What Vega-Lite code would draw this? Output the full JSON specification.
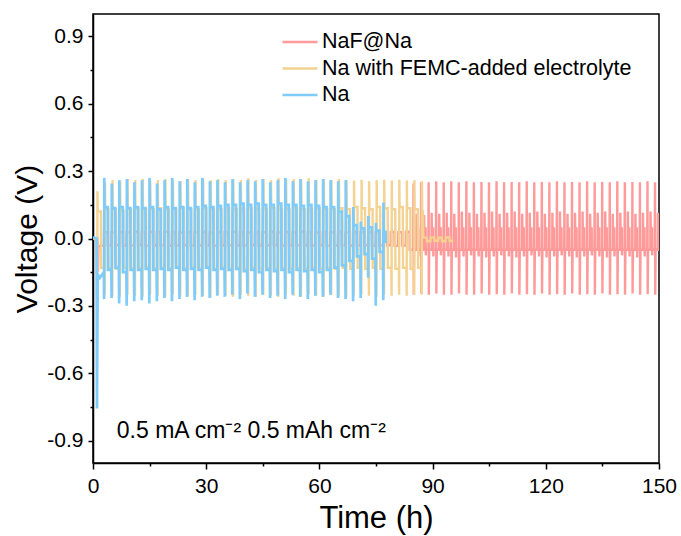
{
  "$schema": "https://vega.github.io/schema/vega-lite/v6.json",
  "width": 566,
  "height": 449,
  "autosize": "none",
  "padding": {"left": 93, "top": 14, "right": 22, "bottom": 73},
  "background": "white",
  "config": {
    "view": {"stroke": "black", "strokeWidth": 1.5},
    "font": "Liberation Sans",
    "axis": {"domainColor": "black", "tickColor": "black", "labelColor": "black", "titleColor": "black", "grid": false, "labelFont": "Liberation Sans", "titleFont": "Liberation Sans", "titleFontWeight": "normal", "domainWidth": 1.5, "tickWidth": 1.5}
  },
  "datasets": {
    "naf": [
      {"t":0,"v":0},{"t":1.2,"v":0},{"t":1.3,"v":-0.15},{"t":1.45,"v":-0.035},{"t":2.88,"v":-0.031},
      {"t":2.92,"v":0.028},{"t":3.9,"v":0.028},{"t":3.92,"v":-0.031},{"t":4.88,"v":-0.031},
      {"t":4.92,"v":0.027},{"t":5.9,"v":0.027},{"t":5.92,"v":-0.03},{"t":6.88,"v":-0.03},
      {"t":6.92,"v":0.029},{"t":7.9,"v":0.029},{"t":7.92,"v":-0.032},{"t":8.88,"v":-0.032},
      {"t":8.92,"v":0.028},{"t":9.9,"v":0.028},{"t":9.92,"v":-0.031},{"t":10.88,"v":-0.031},
      {"t":10.92,"v":0.03},{"t":11.9,"v":0.03},{"t":11.92,"v":-0.03},{"t":12.88,"v":-0.03},
      {"t":12.92,"v":0.027},{"t":13.9,"v":0.027},{"t":13.92,"v":-0.032},{"t":14.88,"v":-0.032},
      {"t":14.92,"v":0.029},{"t":15.9,"v":0.029},{"t":15.92,"v":-0.031},{"t":16.88,"v":-0.031},
      {"t":16.92,"v":0.028},{"t":17.9,"v":0.028},{"t":17.92,"v":-0.03},{"t":18.88,"v":-0.03},
      {"t":18.92,"v":0.03},{"t":19.9,"v":0.03},{"t":19.92,"v":-0.032},{"t":20.88,"v":-0.032},
      {"t":20.92,"v":0.028},{"t":21.9,"v":0.028},{"t":21.92,"v":-0.031},{"t":22.88,"v":-0.031},
      {"t":22.92,"v":0.027},{"t":23.9,"v":0.027},{"t":23.92,"v":-0.03},{"t":24.88,"v":-0.03},
      {"t":24.92,"v":0.029},{"t":25.9,"v":0.029},{"t":25.92,"v":-0.032},{"t":26.88,"v":-0.032},
      {"t":26.92,"v":0.028},{"t":27.9,"v":0.028},{"t":27.92,"v":-0.031},{"t":28.88,"v":-0.031},
      {"t":28.92,"v":0.03},{"t":29.9,"v":0.03},{"t":29.92,"v":-0.03},{"t":30.88,"v":-0.03},
      {"t":30.92,"v":0.027},{"t":31.9,"v":0.027},{"t":31.92,"v":-0.032},{"t":32.88,"v":-0.032},
      {"t":32.92,"v":0.029},{"t":33.9,"v":0.029},{"t":33.92,"v":-0.031},{"t":34.88,"v":-0.031},
      {"t":34.92,"v":0.028},{"t":35.9,"v":0.028},{"t":35.92,"v":-0.03},{"t":36.88,"v":-0.03},
      {"t":36.92,"v":0.03},{"t":37.9,"v":0.03},{"t":37.92,"v":-0.032},{"t":38.88,"v":-0.032},
      {"t":38.92,"v":0.028},{"t":39.9,"v":0.028},{"t":39.92,"v":-0.031},{"t":40.88,"v":-0.031},
      {"t":40.92,"v":0.027},{"t":41.9,"v":0.027},{"t":41.92,"v":-0.03},{"t":42.88,"v":-0.03},
      {"t":42.92,"v":0.029},{"t":43.9,"v":0.029},{"t":43.92,"v":-0.032},{"t":44.88,"v":-0.032},
      {"t":44.92,"v":0.028},{"t":45.9,"v":0.028},{"t":45.92,"v":-0.031},{"t":46.88,"v":-0.031},
      {"t":46.92,"v":0.03},{"t":47.9,"v":0.03},{"t":47.92,"v":-0.03},{"t":48.88,"v":-0.03},
      {"t":48.92,"v":0.027},{"t":49.9,"v":0.027},{"t":49.92,"v":-0.032},{"t":50.88,"v":-0.032},
      {"t":50.92,"v":0.029},{"t":51.9,"v":0.029},{"t":51.92,"v":-0.031},{"t":52.88,"v":-0.031},
      {"t":52.92,"v":0.028},{"t":53.9,"v":0.028},{"t":53.92,"v":-0.03},{"t":54.88,"v":-0.03},
      {"t":54.92,"v":0.03},{"t":55.9,"v":0.03},{"t":55.92,"v":-0.032},{"t":56.88,"v":-0.032},
      {"t":56.92,"v":0.028},{"t":57.9,"v":0.028},{"t":57.92,"v":-0.031},{"t":58.88,"v":-0.031},
      {"t":58.92,"v":0.027},{"t":59.9,"v":0.027},{"t":59.92,"v":-0.03},{"t":60.88,"v":-0.03},
      {"t":60.92,"v":0.029},{"t":61.9,"v":0.029},{"t":61.92,"v":-0.032},{"t":62.88,"v":-0.032},
      {"t":62.92,"v":0.028},{"t":63.9,"v":0.028},{"t":63.92,"v":-0.031},{"t":64.88,"v":-0.031},
      {"t":64.92,"v":0.03},{"t":65.9,"v":0.03},{"t":65.92,"v":-0.03},{"t":66.88,"v":-0.03},
      {"t":66.92,"v":0.027},{"t":67.9,"v":0.027},{"t":67.92,"v":-0.032},{"t":68.88,"v":-0.032},
      {"t":68.92,"v":0.029},{"t":69.9,"v":0.029},{"t":69.92,"v":-0.031},{"t":70.88,"v":-0.031},
      {"t":70.92,"v":0.028},{"t":71.9,"v":0.028},{"t":71.92,"v":-0.03},{"t":72.88,"v":-0.03},
      {"t":72.92,"v":0.03},{"t":73.9,"v":0.03},{"t":73.92,"v":-0.032},{"t":74.88,"v":-0.032},
      {"t":74.92,"v":0.028},{"t":75.9,"v":0.028},{"t":75.92,"v":-0.031},{"t":76.88,"v":-0.031},
      {"t":76.92,"v":0.027},{"t":77.9,"v":0.027},{"t":77.92,"v":-0.03},{"t":78.88,"v":-0.03},
      {"t":78.92,"v":0.029},{"t":79.9,"v":0.029},{"t":79.92,"v":-0.032},{"t":80.88,"v":-0.032},
      {"t":80.92,"v":0.028},{"t":81.9,"v":0.028},{"t":81.92,"v":-0.031},{"t":82.88,"v":-0.031},
      {"t":82.92,"v":0.03},{"t":83.9,"v":0.03},{"t":83.92,"v":-0.05},{"t":84.88,"v":-0.05},
      {"t":84.95,"v":0.245},{"t":85,"v":-0.25},{"t":85.1,"v":-0.05},{"t":85.7,"v":-0.05},{"t":85.75,"v":0.11},{"t":85.8,"v":0.045},{"t":86.15,"v":0.045},{"t":86.2,"v":-0.08},{"t":86.25,"v":-0.05},{"t":86.88,"v":-0.05},
      {"t":86.95,"v":0.25},{"t":87,"v":-0.245},{"t":87.1,"v":-0.05},{"t":87.7,"v":-0.05},{"t":87.75,"v":0.105},{"t":87.8,"v":0.045},{"t":88.15,"v":0.045},{"t":88.2,"v":-0.075},{"t":88.25,"v":-0.05},{"t":88.88,"v":-0.05},
      {"t":88.95,"v":0.25},{"t":89,"v":-0.25},{"t":89.1,"v":-0.05},{"t":89.7,"v":-0.05},{"t":89.75,"v":0.115},{"t":89.8,"v":0.045},{"t":90.15,"v":0.045},{"t":90.2,"v":-0.08},{"t":90.25,"v":-0.05},{"t":90.88,"v":-0.05},
      {"t":90.95,"v":0.255},{"t":91,"v":-0.245},{"t":91.1,"v":-0.05},{"t":91.7,"v":-0.05},{"t":91.75,"v":0.11},{"t":91.8,"v":0.045},{"t":92.15,"v":0.045},{"t":92.2,"v":-0.075},{"t":92.25,"v":-0.05},{"t":92.88,"v":-0.05},
      {"t":92.95,"v":0.25},{"t":93,"v":-0.25},{"t":93.1,"v":-0.05},{"t":93.7,"v":-0.05},{"t":93.75,"v":0.115},{"t":93.8,"v":0.045},{"t":94.15,"v":0.045},{"t":94.2,"v":-0.08},{"t":94.25,"v":-0.05},{"t":94.88,"v":-0.05},
      {"t":94.95,"v":0.255},{"t":95,"v":-0.25},{"t":95.1,"v":-0.05},{"t":95.7,"v":-0.05},{"t":95.75,"v":0.11},{"t":95.8,"v":0.045},{"t":96.15,"v":0.045},{"t":96.2,"v":-0.085},{"t":96.25,"v":-0.05},{"t":96.88,"v":-0.05},
      {"t":96.95,"v":0.25},{"t":97,"v":-0.245},{"t":97.1,"v":-0.05},{"t":97.7,"v":-0.05},{"t":97.75,"v":0.12},{"t":97.8,"v":0.045},{"t":98.15,"v":0.045},{"t":98.2,"v":-0.08},{"t":98.25,"v":-0.05},{"t":98.88,"v":-0.05},
      {"t":98.95,"v":0.255},{"t":99,"v":-0.25},{"t":99.1,"v":-0.05},{"t":99.7,"v":-0.05},{"t":99.75,"v":0.115},{"t":99.8,"v":0.045},{"t":100.15,"v":0.045},{"t":100.2,"v":-0.075},{"t":100.25,"v":-0.05},{"t":100.88,"v":-0.05},
      {"t":100.95,"v":0.25},{"t":101,"v":-0.25},{"t":101.1,"v":-0.05},{"t":101.7,"v":-0.05},{"t":101.75,"v":0.11},{"t":101.8,"v":0.045},{"t":102.15,"v":0.045},{"t":102.2,"v":-0.08},{"t":102.25,"v":-0.05},{"t":102.88,"v":-0.05},
      {"t":102.95,"v":0.252},{"t":103,"v":-0.245},{"t":103.1,"v":-0.05},{"t":103.7,"v":-0.05},{"t":103.75,"v":0.115},{"t":103.8,"v":0.045},{"t":104.15,"v":0.045},{"t":104.2,"v":-0.085},{"t":104.25,"v":-0.05},{"t":104.88,"v":-0.05},
      {"t":104.95,"v":0.25},{"t":105,"v":-0.25},{"t":105.1,"v":-0.05},{"t":105.7,"v":-0.05},{"t":105.75,"v":0.12},{"t":105.8,"v":0.045},{"t":106.15,"v":0.045},{"t":106.2,"v":-0.08},{"t":106.25,"v":-0.05},{"t":106.88,"v":-0.05},
      {"t":106.95,"v":0.255},{"t":107,"v":-0.248},{"t":107.1,"v":-0.05},{"t":107.7,"v":-0.05},{"t":107.75,"v":0.11},{"t":107.8,"v":0.045},{"t":108.15,"v":0.045},{"t":108.2,"v":-0.075},{"t":108.25,"v":-0.05},{"t":108.88,"v":-0.05},
      {"t":108.95,"v":0.25},{"t":109,"v":-0.25},{"t":109.1,"v":-0.05},{"t":109.7,"v":-0.05},{"t":109.75,"v":0.115},{"t":109.8,"v":0.045},{"t":110.15,"v":0.045},{"t":110.2,"v":-0.08},{"t":110.25,"v":-0.05},{"t":110.88,"v":-0.05},
      {"t":110.95,"v":0.252},{"t":111,"v":-0.245},{"t":111.1,"v":-0.05},{"t":111.7,"v":-0.05},{"t":111.75,"v":0.12},{"t":111.8,"v":0.045},{"t":112.15,"v":0.045},{"t":112.2,"v":-0.085},{"t":112.25,"v":-0.05},{"t":112.88,"v":-0.05},
      {"t":112.95,"v":0.25},{"t":113,"v":-0.25},{"t":113.1,"v":-0.05},{"t":113.7,"v":-0.05},{"t":113.75,"v":0.11},{"t":113.8,"v":0.045},{"t":114.15,"v":0.045},{"t":114.2,"v":-0.08},{"t":114.25,"v":-0.05},{"t":114.88,"v":-0.05},
      {"t":114.95,"v":0.255},{"t":115,"v":-0.248},{"t":115.1,"v":-0.05},{"t":115.7,"v":-0.05},{"t":115.75,"v":0.115},{"t":115.8,"v":0.045},{"t":116.15,"v":0.045},{"t":116.2,"v":-0.075},{"t":116.25,"v":-0.05},{"t":116.88,"v":-0.05},
      {"t":116.95,"v":0.25},{"t":117,"v":-0.25},{"t":117.1,"v":-0.05},{"t":117.7,"v":-0.05},{"t":117.75,"v":0.12},{"t":117.8,"v":0.045},{"t":118.15,"v":0.045},{"t":118.2,"v":-0.08},{"t":118.25,"v":-0.05},{"t":118.88,"v":-0.05},
      {"t":118.95,"v":0.252},{"t":119,"v":-0.245},{"t":119.1,"v":-0.05},{"t":119.7,"v":-0.05},{"t":119.75,"v":0.11},{"t":119.8,"v":0.045},{"t":120.15,"v":0.045},{"t":120.2,"v":-0.085},{"t":120.25,"v":-0.05},{"t":120.88,"v":-0.05},
      {"t":120.95,"v":0.25},{"t":121,"v":-0.25},{"t":121.1,"v":-0.05},{"t":121.7,"v":-0.05},{"t":121.75,"v":0.115},{"t":121.8,"v":0.045},{"t":122.15,"v":0.045},{"t":122.2,"v":-0.08},{"t":122.25,"v":-0.05},{"t":122.88,"v":-0.05},
      {"t":122.95,"v":0.255},{"t":123,"v":-0.248},{"t":123.1,"v":-0.05},{"t":123.7,"v":-0.05},{"t":123.75,"v":0.12},{"t":123.8,"v":0.045},{"t":124.15,"v":0.045},{"t":124.2,"v":-0.075},{"t":124.25,"v":-0.05},{"t":124.88,"v":-0.05},
      {"t":124.95,"v":0.25},{"t":125,"v":-0.25},{"t":125.1,"v":-0.05},{"t":125.7,"v":-0.05},{"t":125.75,"v":0.11},{"t":125.8,"v":0.045},{"t":126.15,"v":0.045},{"t":126.2,"v":-0.08},{"t":126.25,"v":-0.05},{"t":126.88,"v":-0.05},
      {"t":126.95,"v":0.252},{"t":127,"v":-0.245},{"t":127.1,"v":-0.05},{"t":127.7,"v":-0.05},{"t":127.75,"v":0.115},{"t":127.8,"v":0.045},{"t":128.15,"v":0.045},{"t":128.2,"v":-0.085},{"t":128.25,"v":-0.05},{"t":128.88,"v":-0.05},
      {"t":128.95,"v":0.25},{"t":129,"v":-0.25},{"t":129.1,"v":-0.05},{"t":129.7,"v":-0.05},{"t":129.75,"v":0.12},{"t":129.8,"v":0.045},{"t":130.15,"v":0.045},{"t":130.2,"v":-0.08},{"t":130.25,"v":-0.05},{"t":130.88,"v":-0.05},
      {"t":130.95,"v":0.255},{"t":131,"v":-0.248},{"t":131.1,"v":-0.05},{"t":131.7,"v":-0.05},{"t":131.75,"v":0.11},{"t":131.8,"v":0.045},{"t":132.15,"v":0.045},{"t":132.2,"v":-0.075},{"t":132.25,"v":-0.05},{"t":132.88,"v":-0.05},
      {"t":132.95,"v":0.25},{"t":133,"v":-0.25},{"t":133.1,"v":-0.05},{"t":133.7,"v":-0.05},{"t":133.75,"v":0.115},{"t":133.8,"v":0.045},{"t":134.15,"v":0.045},{"t":134.2,"v":-0.08},{"t":134.25,"v":-0.05},{"t":134.88,"v":-0.05},
      {"t":134.95,"v":0.252},{"t":135,"v":-0.245},{"t":135.1,"v":-0.05},{"t":135.7,"v":-0.05},{"t":135.75,"v":0.12},{"t":135.8,"v":0.045},{"t":136.15,"v":0.045},{"t":136.2,"v":-0.085},{"t":136.25,"v":-0.05},{"t":136.88,"v":-0.05},
      {"t":136.95,"v":0.25},{"t":137,"v":-0.25},{"t":137.1,"v":-0.05},{"t":137.7,"v":-0.05},{"t":137.75,"v":0.11},{"t":137.8,"v":0.045},{"t":138.15,"v":0.045},{"t":138.2,"v":-0.08},{"t":138.25,"v":-0.05},{"t":138.88,"v":-0.05},
      {"t":138.95,"v":0.255},{"t":139,"v":-0.248},{"t":139.1,"v":-0.05},{"t":139.7,"v":-0.05},{"t":139.75,"v":0.115},{"t":139.8,"v":0.045},{"t":140.15,"v":0.045},{"t":140.2,"v":-0.075},{"t":140.25,"v":-0.05},{"t":140.88,"v":-0.05},
      {"t":140.95,"v":0.25},{"t":141,"v":-0.25},{"t":141.1,"v":-0.05},{"t":141.7,"v":-0.05},{"t":141.75,"v":0.12},{"t":141.8,"v":0.045},{"t":142.15,"v":0.045},{"t":142.2,"v":-0.08},{"t":142.25,"v":-0.05},{"t":142.88,"v":-0.05},
      {"t":142.95,"v":0.252},{"t":143,"v":-0.245},{"t":143.1,"v":-0.05},{"t":143.7,"v":-0.05},{"t":143.75,"v":0.11},{"t":143.8,"v":0.045},{"t":144.15,"v":0.045},{"t":144.2,"v":-0.085},{"t":144.25,"v":-0.05},{"t":144.88,"v":-0.05},
      {"t":144.95,"v":0.25},{"t":145,"v":-0.25},{"t":145.1,"v":-0.05},{"t":145.7,"v":-0.05},{"t":145.75,"v":0.115},{"t":145.8,"v":0.045},{"t":146.15,"v":0.045},{"t":146.2,"v":-0.08},{"t":146.25,"v":-0.05},{"t":146.88,"v":-0.05},
      {"t":146.95,"v":0.255},{"t":147,"v":-0.248},{"t":147.1,"v":-0.05},{"t":147.7,"v":-0.05},{"t":147.75,"v":0.12},{"t":147.8,"v":0.045},{"t":148.15,"v":0.045},{"t":148.2,"v":-0.075},{"t":148.25,"v":-0.05},{"t":148.88,"v":-0.05},
      {"t":148.95,"v":0.25},{"t":149,"v":-0.25},{"t":149.1,"v":-0.05},{"t":149.7,"v":-0.05},{"t":149.75,"v":0.115},{"t":149.8,"v":0.045},{"t":150,"v":0.045}
    ],
    "femc": [
      {"t":0,"v":0},{"t":0.95,"v":0},{"t":1.0,"v":-0.16},{"t":1.08,"v":-0.13},
      {"t":1.13,"v":-0.22},{"t":1.18,"v":0.21},{"t":1.25,"v":0.12},{"t":2.1,"v":0.12},{"t":2.15,"v":-0.13},{"t":3.05,"v":-0.13},
      {"t":3.13,"v":-0.25},{"t":3.18,"v":0.25},{"t":3.25,"v":0.13},{"t":4.1,"v":0.13},{"t":4.15,"v":-0.13},{"t":5.05,"v":-0.13},
      {"t":5.13,"v":-0.255},{"t":5.18,"v":0.26},{"t":5.25,"v":0.13},{"t":6.1,"v":0.13},{"t":6.15,"v":-0.135},{"t":7.05,"v":-0.135},
      {"t":7.13,"v":-0.26},{"t":7.18,"v":0.255},{"t":7.25,"v":0.125},{"t":8.1,"v":0.125},{"t":8.15,"v":-0.13},{"t":9.05,"v":-0.13},
      {"t":9.13,"v":-0.25},{"t":9.18,"v":0.265},{"t":9.25,"v":0.13},{"t":10.1,"v":0.13},{"t":10.15,"v":-0.13},{"t":11.05,"v":-0.13},
      {"t":11.13,"v":-0.255},{"t":11.18,"v":0.26},{"t":11.25,"v":0.135},{"t":12.1,"v":0.135},{"t":12.15,"v":-0.135},{"t":13.05,"v":-0.135},
      {"t":13.13,"v":-0.26},{"t":13.18,"v":0.265},{"t":13.25,"v":0.13},{"t":14.1,"v":0.13},{"t":14.15,"v":-0.13},{"t":15.05,"v":-0.13},
      {"t":15.13,"v":-0.25},{"t":15.18,"v":0.255},{"t":15.25,"v":0.13},{"t":16.1,"v":0.13},{"t":16.15,"v":-0.135},{"t":17.05,"v":-0.135},
      {"t":17.13,"v":-0.255},{"t":17.18,"v":0.26},{"t":17.25,"v":0.135},{"t":18.1,"v":0.135},{"t":18.15,"v":-0.13},{"t":19.05,"v":-0.13},
      {"t":19.13,"v":-0.26},{"t":19.18,"v":0.265},{"t":19.25,"v":0.13},{"t":20.1,"v":0.13},{"t":20.15,"v":-0.135},{"t":21.05,"v":-0.135},
      {"t":21.13,"v":-0.25},{"t":21.18,"v":0.26},{"t":21.25,"v":0.13},{"t":22.1,"v":0.13},{"t":22.15,"v":-0.13},{"t":23.05,"v":-0.13},
      {"t":23.13,"v":-0.255},{"t":23.18,"v":0.255},{"t":23.25,"v":0.135},{"t":24.1,"v":0.135},{"t":24.15,"v":-0.135},{"t":25.05,"v":-0.135},
      {"t":25.13,"v":-0.26},{"t":25.18,"v":0.265},{"t":25.25,"v":0.13},{"t":26.1,"v":0.13},{"t":26.15,"v":-0.13},{"t":27.05,"v":-0.13},
      {"t":27.13,"v":-0.25},{"t":27.18,"v":0.26},{"t":27.25,"v":0.13},{"t":28.1,"v":0.13},{"t":28.15,"v":-0.135},{"t":29.05,"v":-0.135},
      {"t":29.13,"v":-0.255},{"t":29.18,"v":0.268},{"t":29.25,"v":0.135},{"t":30.1,"v":0.135},{"t":30.15,"v":-0.13},{"t":31.05,"v":-0.13},
      {"t":31.13,"v":-0.26},{"t":31.18,"v":0.26},{"t":31.25,"v":0.13},{"t":32.1,"v":0.13},{"t":32.15,"v":-0.135},{"t":33.05,"v":-0.135},
      {"t":33.13,"v":-0.25},{"t":33.18,"v":0.265},{"t":33.25,"v":0.13},{"t":34.1,"v":0.13},{"t":34.15,"v":-0.13},{"t":35.05,"v":-0.13},
      {"t":35.13,"v":-0.255},{"t":35.18,"v":0.26},{"t":35.25,"v":0.135},{"t":36.1,"v":0.135},{"t":36.15,"v":-0.135},{"t":37.05,"v":-0.135},
      {"t":37.13,"v":-0.26},{"t":37.18,"v":0.265},{"t":37.25,"v":0.13},{"t":38.1,"v":0.13},{"t":38.15,"v":-0.13},{"t":39.05,"v":-0.13},
      {"t":39.13,"v":-0.25},{"t":39.18,"v":0.26},{"t":39.25,"v":0.13},{"t":40.1,"v":0.13},{"t":40.15,"v":-0.135},{"t":41.05,"v":-0.135},
      {"t":41.13,"v":-0.255},{"t":41.18,"v":0.268},{"t":41.25,"v":0.135},{"t":42.1,"v":0.135},{"t":42.15,"v":-0.13},{"t":43.05,"v":-0.13},
      {"t":43.13,"v":-0.26},{"t":43.18,"v":0.26},{"t":43.25,"v":0.13},{"t":44.1,"v":0.13},{"t":44.15,"v":-0.135},{"t":45.05,"v":-0.135},
      {"t":45.13,"v":-0.25},{"t":45.18,"v":0.265},{"t":45.25,"v":0.13},{"t":46.1,"v":0.13},{"t":46.15,"v":-0.13},{"t":47.05,"v":-0.13},
      {"t":47.13,"v":-0.255},{"t":47.18,"v":0.26},{"t":47.25,"v":0.135},{"t":48.1,"v":0.135},{"t":48.15,"v":-0.135},{"t":49.05,"v":-0.135},
      {"t":49.13,"v":-0.26},{"t":49.18,"v":0.268},{"t":49.25,"v":0.13},{"t":50.1,"v":0.13},{"t":50.15,"v":-0.13},{"t":51.05,"v":-0.13},
      {"t":51.13,"v":-0.25},{"t":51.18,"v":0.26},{"t":51.25,"v":0.13},{"t":52.1,"v":0.13},{"t":52.15,"v":-0.135},{"t":53.05,"v":-0.135},
      {"t":53.13,"v":-0.255},{"t":53.18,"v":0.265},{"t":53.25,"v":0.135},{"t":54.1,"v":0.135},{"t":54.15,"v":-0.13},{"t":55.05,"v":-0.13},
      {"t":55.13,"v":-0.26},{"t":55.18,"v":0.26},{"t":55.25,"v":0.13},{"t":56.1,"v":0.13},{"t":56.15,"v":-0.135},{"t":57.05,"v":-0.135},
      {"t":57.13,"v":-0.25},{"t":57.18,"v":0.268},{"t":57.25,"v":0.13},{"t":58.1,"v":0.13},{"t":58.15,"v":-0.13},{"t":59.05,"v":-0.13},
      {"t":59.13,"v":-0.255},{"t":59.18,"v":0.26},{"t":59.25,"v":0.135},{"t":60.1,"v":0.135},{"t":60.15,"v":-0.135},{"t":61.05,"v":-0.135},
      {"t":61.13,"v":-0.26},{"t":61.18,"v":0.265},{"t":61.25,"v":0.13},{"t":62.1,"v":0.13},{"t":62.15,"v":-0.13},{"t":63.05,"v":-0.13},
      {"t":63.13,"v":-0.25},{"t":63.18,"v":0.26},{"t":63.25,"v":0.13},{"t":64.1,"v":0.13},{"t":64.15,"v":-0.135},{"t":65.05,"v":-0.135},
      {"t":65.13,"v":-0.255},{"t":65.18,"v":0.265},{"t":65.25,"v":0.135},{"t":66.1,"v":0.135},{"t":66.15,"v":-0.13},{"t":67.05,"v":-0.13},
      {"t":67.13,"v":-0.26},{"t":67.18,"v":0.26},{"t":67.25,"v":0.13},{"t":68.1,"v":0.13},{"t":68.15,"v":-0.135},{"t":69.05,"v":-0.135},
      {"t":69.13,"v":-0.255},{"t":69.18,"v":0.258},{"t":69.25,"v":0.14},{"t":70.1,"v":0.14},{"t":70.15,"v":-0.13},{"t":71.05,"v":-0.13},
      {"t":71.13,"v":-0.25},{"t":71.18,"v":0.262},{"t":71.25,"v":0.135},{"t":72.1,"v":0.135},{"t":72.15,"v":-0.135},{"t":73.05,"v":-0.135},
      {"t":73.13,"v":-0.255},{"t":73.18,"v":0.255},{"t":73.25,"v":0.13},{"t":74.1,"v":0.13},{"t":74.15,"v":-0.13},{"t":75.05,"v":-0.13},
      {"t":75.13,"v":-0.26},{"t":75.18,"v":0.26},{"t":75.25,"v":0.14},{"t":76.1,"v":0.14},{"t":76.15,"v":-0.135},{"t":77.05,"v":-0.135},
      {"t":77.13,"v":-0.25},{"t":77.18,"v":0.262},{"t":77.25,"v":0.135},{"t":78.1,"v":0.135},{"t":78.15,"v":-0.13},{"t":79.05,"v":-0.13},
      {"t":79.13,"v":-0.255},{"t":79.18,"v":0.258},{"t":79.25,"v":0.13},{"t":80.1,"v":0.13},{"t":80.15,"v":-0.135},{"t":81.05,"v":-0.135},
      {"t":81.13,"v":-0.25},{"t":81.18,"v":0.262},{"t":81.25,"v":0.14},{"t":82.1,"v":0.14},{"t":82.15,"v":-0.13},{"t":83.05,"v":-0.13},
      {"t":83.13,"v":-0.255},{"t":83.18,"v":0.258},{"t":83.25,"v":0.135},{"t":84.1,"v":0.135},{"t":84.15,"v":-0.135},{"t":85.05,"v":-0.135},
      {"t":85.13,"v":-0.25},{"t":85.18,"v":0.26},{"t":85.25,"v":0.13},{"t":86.1,"v":0.13},{"t":86.15,"v":-0.13},{"t":87.05,"v":-0.13},
      {"t":87.13,"v":-0.25},{"t":87.18,"v":0.255},{"t":87.25,"v":0.12},{"t":87.45,"v":0.12},{"t":87.5,"v":0.004},
      {"t":88.45,"v":0.004},{"t":88.5,"v":-0.012},{"t":89.45,"v":-0.012},{"t":89.5,"v":0.005},{"t":90.45,"v":0.005},{"t":90.5,"v":-0.01},{"t":91.45,"v":-0.01},
      {"t":91.5,"v":0.004},{"t":92.45,"v":0.004},{"t":92.5,"v":-0.012},{"t":93.45,"v":-0.012},{"t":93.5,"v":0.005},{"t":94.45,"v":0.005},{"t":94.5,"v":-0.011},{"t":95.5,"v":-0.011}
    ],
    "na": [
      {"t":0,"v":0.005},{"t":0.95,"v":0},{"t":1.05,"v":-0.757},{"t":1.25,"v":-0.16},{"t":1.8,"v":-0.175},{"t":2.87,"v":-0.15},
      {"t":2.93,"v":-0.27},{"t":2.98,"v":0.27},{"t":3.05,"v":0.14},{"t":3.9,"v":0.14},{"t":3.95,"v":-0.14},{"t":4.85,"v":-0.14},
      {"t":4.93,"v":-0.265},{"t":4.98,"v":0.245},{"t":5.05,"v":0.135},{"t":5.9,"v":0.135},{"t":5.95,"v":-0.13},{"t":6.85,"v":-0.13},
      {"t":6.93,"v":-0.29},{"t":6.98,"v":0.26},{"t":7.05,"v":0.14},{"t":7.9,"v":0.14},{"t":7.95,"v":-0.15},{"t":8.85,"v":-0.15},
      {"t":8.93,"v":-0.3},{"t":8.98,"v":0.265},{"t":9.05,"v":0.135},{"t":9.9,"v":0.135},{"t":9.95,"v":-0.14},{"t":10.85,"v":-0.14},
      {"t":10.93,"v":-0.28},{"t":10.98,"v":0.25},{"t":11.05,"v":0.14},{"t":11.9,"v":0.14},{"t":11.95,"v":-0.14},{"t":12.85,"v":-0.14},
      {"t":12.93,"v":-0.275},{"t":12.98,"v":0.26},{"t":13.05,"v":0.135},{"t":13.9,"v":0.135},{"t":13.95,"v":-0.135},{"t":14.85,"v":-0.135},
      {"t":14.93,"v":-0.29},{"t":14.98,"v":0.27},{"t":15.05,"v":0.14},{"t":15.9,"v":0.14},{"t":15.95,"v":-0.14},{"t":16.85,"v":-0.14},
      {"t":16.93,"v":-0.28},{"t":16.98,"v":0.245},{"t":17.05,"v":0.13},{"t":17.9,"v":0.13},{"t":17.95,"v":-0.135},{"t":18.85,"v":-0.135},
      {"t":18.93,"v":-0.265},{"t":18.98,"v":0.26},{"t":19.05,"v":0.14},{"t":19.9,"v":0.14},{"t":19.95,"v":-0.14},{"t":20.85,"v":-0.14},
      {"t":20.93,"v":-0.28},{"t":20.98,"v":0.27},{"t":21.05,"v":0.135},{"t":21.9,"v":0.135},{"t":21.95,"v":-0.13},{"t":22.85,"v":-0.13},
      {"t":22.93,"v":-0.27},{"t":22.98,"v":0.255},{"t":23.05,"v":0.14},{"t":23.9,"v":0.14},{"t":23.95,"v":-0.14},{"t":24.85,"v":-0.14},
      {"t":24.93,"v":-0.26},{"t":24.98,"v":0.265},{"t":25.05,"v":0.135},{"t":25.9,"v":0.135},{"t":25.95,"v":-0.135},{"t":26.85,"v":-0.135},
      {"t":26.93,"v":-0.275},{"t":26.98,"v":0.25},{"t":27.05,"v":0.14},{"t":27.9,"v":0.14},{"t":27.95,"v":-0.14},{"t":28.85,"v":-0.14},
      {"t":28.93,"v":-0.26},{"t":28.98,"v":0.27},{"t":29.05,"v":0.145},{"t":29.9,"v":0.145},{"t":29.95,"v":-0.13},{"t":30.85,"v":-0.13},
      {"t":30.93,"v":-0.265},{"t":30.98,"v":0.255},{"t":31.05,"v":0.14},{"t":31.9,"v":0.14},{"t":31.95,"v":-0.14},{"t":32.85,"v":-0.14},
      {"t":32.93,"v":-0.255},{"t":32.98,"v":0.26},{"t":33.05,"v":0.145},{"t":33.9,"v":0.145},{"t":33.95,"v":-0.135},{"t":34.85,"v":-0.135},
      {"t":34.93,"v":-0.26},{"t":34.98,"v":0.25},{"t":35.05,"v":0.15},{"t":35.9,"v":0.15},{"t":35.95,"v":-0.14},{"t":36.85,"v":-0.14},
      {"t":36.93,"v":-0.25},{"t":36.98,"v":0.265},{"t":37.05,"v":0.15},{"t":37.9,"v":0.15},{"t":37.95,"v":-0.135},{"t":38.85,"v":-0.135},
      {"t":38.93,"v":-0.27},{"t":38.98,"v":0.25},{"t":39.05,"v":0.155},{"t":39.9,"v":0.155},{"t":39.95,"v":-0.145},{"t":40.85,"v":-0.145},
      {"t":40.93,"v":-0.245},{"t":40.98,"v":0.26},{"t":41.05,"v":0.15},{"t":41.9,"v":0.15},{"t":41.95,"v":-0.14},{"t":42.85,"v":-0.14},
      {"t":42.93,"v":-0.26},{"t":42.98,"v":0.255},{"t":43.05,"v":0.155},{"t":43.9,"v":0.155},{"t":43.95,"v":-0.15},{"t":44.85,"v":-0.15},
      {"t":44.93,"v":-0.25},{"t":44.98,"v":0.265},{"t":45.05,"v":0.15},{"t":45.9,"v":0.15},{"t":45.95,"v":-0.14},{"t":46.85,"v":-0.14},
      {"t":46.93,"v":-0.265},{"t":46.98,"v":0.25},{"t":47.05,"v":0.15},{"t":47.9,"v":0.15},{"t":47.95,"v":-0.145},{"t":48.85,"v":-0.145},
      {"t":48.93,"v":-0.255},{"t":48.98,"v":0.26},{"t":49.05,"v":0.155},{"t":49.9,"v":0.155},{"t":49.95,"v":-0.14},{"t":50.85,"v":-0.14},
      {"t":50.93,"v":-0.27},{"t":50.98,"v":0.27},{"t":51.05,"v":0.15},{"t":51.9,"v":0.15},{"t":51.95,"v":-0.15},{"t":52.85,"v":-0.15},
      {"t":52.93,"v":-0.25},{"t":52.98,"v":0.255},{"t":53.05,"v":0.15},{"t":53.9,"v":0.15},{"t":53.95,"v":-0.14},{"t":54.85,"v":-0.14},
      {"t":54.93,"v":-0.26},{"t":54.98,"v":0.265},{"t":55.05,"v":0.145},{"t":55.9,"v":0.145},{"t":55.95,"v":-0.145},{"t":56.85,"v":-0.145},
      {"t":56.93,"v":-0.27},{"t":56.98,"v":0.255},{"t":57.05,"v":0.15},{"t":57.9,"v":0.15},{"t":57.95,"v":-0.14},{"t":58.85,"v":-0.14},
      {"t":58.93,"v":-0.255},{"t":58.98,"v":0.26},{"t":59.05,"v":0.145},{"t":59.9,"v":0.145},{"t":59.95,"v":-0.15},{"t":60.85,"v":-0.15},
      {"t":60.93,"v":-0.26},{"t":60.98,"v":0.265},{"t":61.05,"v":0.14},{"t":61.9,"v":0.14},{"t":61.95,"v":-0.14},{"t":62.85,"v":-0.14},
      {"t":62.93,"v":-0.25},{"t":62.98,"v":0.26},{"t":63.05,"v":0.14},{"t":63.9,"v":0.14},{"t":63.95,"v":-0.13},{"t":64.85,"v":-0.13},
      {"t":64.93,"v":-0.265},{"t":64.98,"v":0.255},{"t":65.05,"v":0.12},{"t":65.9,"v":0.12},{"t":65.95,"v":-0.12},{"t":66.85,"v":-0.12},
      {"t":66.93,"v":-0.27},{"t":66.98,"v":0.26},{"t":67.05,"v":0.1},{"t":67.9,"v":0.1},{"t":67.95,"v":-0.1},{"t":68.85,"v":-0.1},
      {"t":68.93,"v":-0.28},{"t":68.98,"v":0.14},{"t":69.05,"v":0.06},{"t":69.9,"v":0.06},{"t":69.95,"v":-0.08},{"t":70.85,"v":-0.08},
      {"t":70.93,"v":-0.265},{"t":70.98,"v":0.075},{"t":71.05,"v":0.045},{"t":71.9,"v":0.045},{"t":71.95,"v":-0.07},{"t":72.85,"v":-0.07},
      {"t":72.93,"v":-0.175},{"t":72.98,"v":0.1},{"t":73.05,"v":0.05},{"t":73.9,"v":0.05},{"t":73.95,"v":-0.09},{"t":74.85,"v":-0.09},
      {"t":74.93,"v":-0.3},{"t":74.98,"v":0.07},{"t":75.05,"v":0.035},{"t":75.9,"v":0.035},{"t":75.95,"v":-0.06},{"t":76.85,"v":-0.06},
      {"t":76.93,"v":-0.275},{"t":76.98,"v":0.16},{"t":77.05,"v":0.03},{"t":77.5,"v":0.03},{"t":77.55,"v":-0.02}
    ]
  },
  "layer": [
    {
      "data": {"name": "naf"},
      "mark": {"type": "line", "strokeWidth": 2.4, "clip": true},
      "encoding": {
        "x": {"field": "t", "type": "quantitative", "scale": {"domain": [0, 150], "nice": false, "zero": false},
              "axis": {"orient": "bottom", "values": [0, 30, 60, 90, 120, 150], "tickSize": 6, "labelFontSize": 21, "labelPadding": 6, "labelFlush": false, "title": "Time (h)", "titleFontSize": 31, "titlePadding": 7}},
        "y": {"field": "v", "type": "quantitative", "scale": {"domain": [-1, 1], "nice": false, "zero": false},
              "axis": {"orient": "left", "values": [-0.9, -0.6, -0.3, 0, 0.3, 0.6, 0.9], "tickSize": 5, "labelFontSize": 21, "labelPadding": 5, "labelExpr": "datum.value < -0.001 ? '-' + format(-datum.value, '.1f') : format(abs(datum.value), '.1f')", "title": "Voltage (V)", "titleFontSize": 30, "titlePadding": 4}},
        "color": {"datum": "NaF@Na", "type": "nominal",
                  "scale": {"domain": ["NaF@Na", "Na with FEMC-added electrolyte", "Na"], "range": ["#FF9A9A", "#F3D292", "#7FCBFA"]},
                  "legend": {"orient": "none", "legendX": 188, "legendY": 15, "title": null, "symbolType": "stroke", "symbolSize": 1225, "symbolStrokeWidth": 2.5, "labelFontSize": 21.5, "labelOffset": 3, "labelLimit": 0, "labelFont": "Liberation Sans", "labelColor": "black", "rowPadding": 0.5, "clipHeight": 26}},
        "order": {"value": null}
      }
    },
    {
      "data": {"name": "femc"},
      "mark": {"type": "line", "strokeWidth": 2.4, "clip": true},
      "encoding": {
        "x": {"field": "t", "type": "quantitative", "axis": {"orient": "bottom", "values": [15, 45, 75, 105, 135], "tickSize": 3, "labels": false, "domain": false, "title": null}},
        "y": {"field": "v", "type": "quantitative", "axis": {"orient": "left", "values": [-0.75, -0.45, -0.15, 0.15, 0.45, 0.75], "tickSize": 3, "labels": false, "domain": false, "title": null}},
        "color": {"datum": "Na with FEMC-added electrolyte", "type": "nominal"},
        "order": {"value": null}
      }
    },
    {
      "data": {"name": "na"},
      "mark": {"type": "line", "strokeWidth": 2.7, "clip": true},
      "encoding": {
        "x": {"field": "t", "type": "quantitative", "axis": null},
        "y": {"field": "v", "type": "quantitative", "axis": null},
        "color": {"datum": "Na", "type": "nominal"},
        "order": {"value": null}
      }
    },
    {
      "data": {"values": [{"label": "0.5 mA cm⁻² 0.5 mAh cm⁻²"}]},
      "mark": {"type": "text", "align": "left", "baseline": "alphabetic", "fontSize": 23, "font": "Liberation Sans", "color": "black"},
      "encoding": {
        "x": {"datum": 6.3, "type": "quantitative", "axis": null},
        "y": {"datum": -0.889, "type": "quantitative", "axis": null},
        "text": {"field": "label"}
      }
    }
  ],
  "resolve": {"axis": {"x": "independent", "y": "independent"}}
}
